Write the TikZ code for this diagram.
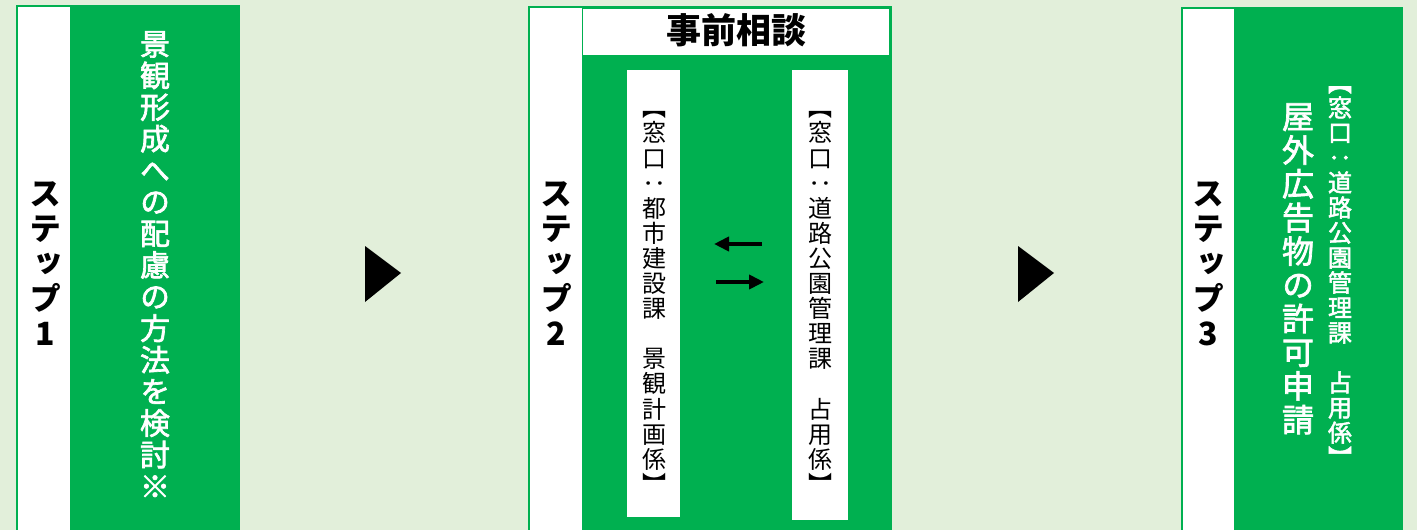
\documentclass[tikz,border=0pt]{standalone}
\usepackage{fontspec}
\usetikzlibrary{arrows.meta}
\newfontfamily\jp[RawFeature=+vert]{Noto Sans CJK JP}
\newfontfamily\jpm[RawFeature=+vert,FakeBold=2.2]{Noto Sans CJK JP}
\newfontfamily\jph{Noto Sans CJK JP}
\definecolor{bg}{HTML}{E2EFDA}
\definecolor{gr}{HTML}{00B050}
\def\vtend{\vtend}
\def\vtloop#1{\ifx#1\vtend\else\hbox to 1em{\vrule height .88em depth .12em width 0pt\hss#1\hss}\expandafter\vtloop\fi}
\newcommand\vt[2]{\vbox{\baselineskip=#1\lineskiplimit=-1000pt\relax\vtloop#2\vtend}}
\tikzset{
  outerbox/.style={draw=gr, line width=1.5pt, fill=white},
  greenbox/.style={fill=gr},
  innerbox/.style={fill=white},
  steplabel/.style={text=black, inner sep=0pt},
  whitetext/.style={text=white, inner sep=0pt},
  inntext/.style={text=black, inner sep=0pt},
  tri/.style={fill=black},
  flow/.style={-{Triangle[length=15pt,width=14pt]}, line width=4pt}
}
\begin{document}
\begin{tikzpicture}[x=1pt,y=-1pt]
\useasboundingbox (0,0) rectangle (1417,530);
\fill[bg] (0,0) rectangle (1417,530);
% ---------- step 1
\draw[outerbox] (17,6) rectangle (239,532);
\fill[greenbox] (70,6.75) rectangle (238.25,532);
\node[steplabel] (s1) at (45,263) {\jp\bfseries\fontsize{32}{32}\selectfont\vt{35pt}{ステップ1}};
\node[whitetext] (t1) at (155,265) {\jpm\fontsize{30}{30}\selectfont\vt{31.6pt}{景観形成への配慮の方法を検討※}};
% triangle 1
\fill[tri] (365,246) -- (401,273) -- (365,302) -- cycle;
% ---------- step 2
\draw[outerbox] (529,7) rectangle (891,532);
\fill[greenbox] (582,7.75) rectangle (890.25,532);
\fill[innerbox] (583,9) rectangle (889,55);
\node[inntext] (h2) at (736,30) {\jph\bfseries\fontsize{35}{35}\selectfont 事前相談};
\node[steplabel] (s2) at (556,263) {\jp\bfseries\fontsize{32}{32}\selectfont\vt{35pt}{ステップ2}};
\fill[innerbox] (627,70) rectangle (680,517);
\fill[innerbox] (792,70) rectangle (848,520);
\node[inntext] (a2) at (654,296) {\jp\fontsize{24}{24}\selectfont\vt{25.1pt}{【窓口：都市建設課　景観計画係】}};
\node[inntext] (b2) at (820,296) {\jp\fontsize{24}{24}\selectfont\vt{25.1pt}{【窓口：道路公園管理課　占用係】}};
\coordinate (l1) at (762,244);
\coordinate (l2) at (714,244);
\coordinate (r1) at (716,282);
\coordinate (r2) at (764,282);
\draw[flow] (l1) -- (l2);
\draw[flow] (r1) -- (r2);
% triangle 2
\fill[tri] (1018,246) -- (1054,273) -- (1018,302) -- cycle;
% ---------- step 3
\draw[outerbox] (1182,8) rectangle (1402,532);
\fill[greenbox] (1234,8.75) rectangle (1401.25,532);
\node[steplabel] (s3) at (1208,263) {\jp\bfseries\fontsize{32}{32}\selectfont\vt{35pt}{ステップ3}};
\node[whitetext] (t3) at (1298,268) {\jpm\fontsize{32}{32}\selectfont\vt{33.7pt}{屋外広告物の許可申請}};
\node[whitetext] (w3) at (1340,270) {\jpm\fontsize{24}{24}\selectfont\vt{25pt}{【窓口：道路公園管理課　占用係】}};
\end{tikzpicture}
\end{document}
